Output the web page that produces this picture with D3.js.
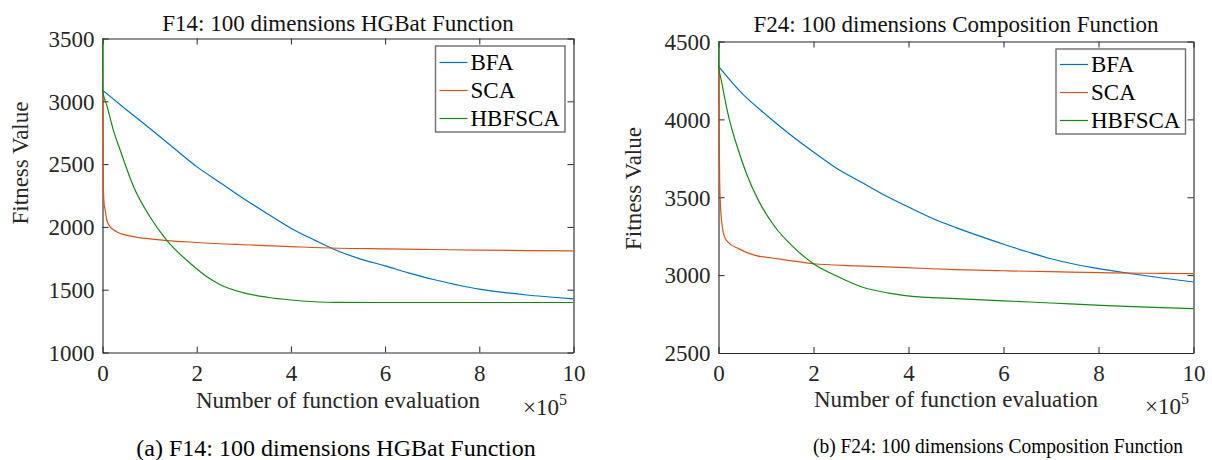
<!DOCTYPE html>
<html>
<head>
<meta charset="utf-8">
<script src="https://cdn.jsdelivr.net/npm/d3@7/dist/d3.min.js"></script>
<style>
  html, body { margin: 0; padding: 0; background: #fff; }
  svg { display: block; }
  svg text { font-family: "Liberation Serif", "Times New Roman", serif !important; }
</style>
</head>
<body>
<svg id="chart" width="1212" height="460"></svg>
<script>
// ---------- data (x in units of 1e5 function evaluations) ----------
const xTicks = [0, 2, 4, 6, 8, 10];
const yTicksF14 = [1000, 1500, 2000, 2500, 3000, 3500];
const yTicksF24 = [2500, 3000, 3500, 4000, 4500];
const seriesNames = ["BFA", "SCA", "HBFSCA"];
const seriesColors = ["#0072BD", "#D95319", "#138a13"];

const titleF14 = "F14: 100 dimensions HGBat Function";
const titleF24 = "F24: 100 dimensions Composition Function";
const captionF14 = "(a) F14: 100 dimensions HGBat Function";
const captionF24 = "(b) F24: 100 dimensions Composition Function";
const xLabel = "Number of function evaluation";
const yLabel = "Fitness Value";

// F14
const f14BfaX = [0, 0.5, 1, 1.5, 2, 2.5, 3, 3.5, 4, 4.5, 5, 5.5, 6, 6.5, 7, 7.5, 8, 8.5, 9, 9.5, 10];
const f14BfaY = [3089, 2935, 2785, 2632, 2480, 2352, 2225, 2105, 1990, 1895, 1808, 1742, 1690, 1634, 1583, 1541, 1504, 1479, 1458, 1442, 1427];
const f14ScaX = [0, 0.01, 0.02, 0.035, 0.057, 0.09, 0.16, 0.3, 0.66, 1, 1.37, 2, 2.57, 3, 4, 5, 6, 7, 8, 9, 10];
const f14ScaY = [3089, 2700, 2300, 2180, 2135, 2055, 2002, 1962, 1923, 1905, 1891, 1876, 1864, 1858, 1843, 1830, 1825, 1820, 1815, 1811, 1809];
const f14HybX = [0, 0.002, 0.1, 0.23, 0.375, 0.66, 1, 1.37, 1.86, 2.29, 2.5, 3, 3.5, 4, 4.5, 5, 6, 7, 8, 9, 10];
const f14HybY = [3500, 3089, 2957, 2771, 2612, 2320, 2085, 1891, 1711, 1585, 1540, 1475, 1440, 1418, 1404, 1399, 1398, 1398, 1398, 1398, 1398];

// F24
const f24BfaX = [0, 0.5, 1, 1.5, 2, 2.5, 3, 3.5, 4, 4.5, 5, 5.5, 6, 6.5, 7, 7.5, 8, 8.5, 9, 9.5, 10];
const f24BfaY = [4340, 4165, 4030, 3905, 3790, 3683, 3598, 3513, 3437, 3365, 3305, 3250, 3198, 3150, 3105, 3070, 3042, 3018, 2996, 2975, 2956];
const f24ScaX = [0, 0.01, 0.025, 0.04, 0.08, 0.13, 0.2, 0.42, 0.77, 1.12, 1.47, 2, 2.88, 3.94, 5, 6, 7, 8.06, 9, 10];
const f24ScaY = [4340, 4000, 3600, 3458, 3309, 3244, 3212, 3170, 3127, 3110, 3095, 3073, 3060, 3048, 3035, 3028, 3022, 3016, 3012, 3009];
const f24HybX = [0, 0.003, 0.06, 0.2, 0.42, 0.59, 0.84, 1.19, 1.54, 2, 2.53, 3.02, 3.58, 4.29, 5, 6, 7, 8.06, 9, 10];
const f24HybY = [4500, 4340, 4250, 4036, 3800, 3651, 3480, 3309, 3191, 3073, 2988, 2924, 2885, 2859, 2849, 2835, 2821, 2806, 2795, 2785];

// ---------- drawing ----------
const svg = d3.select("#chart");
svg.append("rect").attr("width", 1212).attr("height", 460).attr("fill", "#fff");

const FONT = 23;
const AXIS = "#262626";
const SERIF = "'Liberation Serif', 'Times New Roman', serif";

function drawPanel(p) {
  const x = d3.scaleLinear().domain([0, 10]).range([p.left, p.right]);
  const y = d3.scaleLinear().domain(p.yDomain).range([p.bottom, p.top]);
  const g = svg.append("g").style("font-family", SERIF);

  // axes (ticks inward, box on)
  const axB = g.append("g").attr("transform", `translate(0,${p.bottom})`)
    .call(d3.axisBottom(x).tickValues(xTicks).tickSizeInner(-6).tickSizeOuter(0).tickPadding(14).tickFormat(d3.format("d")));
  const axT = g.append("g").attr("transform", `translate(0,${p.top})`)
    .call(d3.axisTop(x).tickValues(xTicks).tickSizeInner(-6).tickSizeOuter(0).tickFormat(""));
  const axL = g.append("g").attr("transform", `translate(${p.left},0)`)
    .call(d3.axisLeft(y).tickValues(p.yTicks).tickSizeInner(-6).tickSizeOuter(0).tickPadding(14).tickFormat(d3.format("d")));
  const axR = g.append("g").attr("transform", `translate(${p.right},0)`)
    .call(d3.axisRight(y).tickValues(p.yTicks).tickSizeInner(-6).tickSizeOuter(0).tickFormat(""));
  [axB, axT, axL, axR].forEach(a => {
    a.attr("font-family", null).attr("font-size", null).style("font-family", SERIF);
    a.select(".domain").attr("stroke", AXIS).attr("stroke-width", 1.1);
    a.selectAll(".tick line").attr("stroke", AXIS).attr("stroke-width", 1);
    a.selectAll("text").style("font-family", SERIF).style("font-size", FONT + "px").attr("fill", AXIS);
  });
  axB.selectAll(".tick text").attr("dy", null).attr("y", 28);
  axL.selectAll(".tick text").attr("dy", "0.34em").attr("x", -8);

  // lines
  const clipId = "clip" + p.id;
  svg.append("clipPath").attr("id", clipId).append("rect")
    .attr("x", p.left - 1).attr("y", p.top - 1).attr("width", p.right - p.left + 2).attr("height", p.bottom - p.top + 2);
  const line = d3.line().x(d => x(d[0])).y(d => y(d[1])).curve(d3.curveMonotoneX);
  p.series.forEach((s, i) => {
    const pts = s.x.map((v, k) => [v, s.y[k]]);
    g.append("path").datum(pts).attr("d", line).attr("fill", "none")
      .attr("stroke", seriesColors[i]).attr("stroke-width", 1.2).attr("clip-path", `url(#${clipId})`);
  });

  const txt = (sel) => sel.style("font-family", SERIF);

  // title
  txt(g.append("text")).attr("x", (p.left + p.right) / 2).attr("y", p.titleY)
    .attr("text-anchor", "middle").style("font-size", FONT + "px").attr("fill", "#111").text(p.title);

  // x label
  txt(g.append("text")).attr("x", (p.left + p.right) / 2).attr("y", p.xLabelY)
    .attr("text-anchor", "middle").style("font-size", FONT + "px").attr("fill", AXIS).text(xLabel);
  // exponent
  const ex = txt(g.append("text")).attr("x", p.expX).attr("y", p.expY).style("font-size", FONT + "px").attr("fill", AXIS);
  ex.append("tspan").text("\u00D710");
  ex.append("tspan").style("font-size", "16px").attr("dy", -10).text("5");

  // y label
  txt(g.append("text")).attr("transform", `translate(${p.yLabelX},${p.yLabelCY}) rotate(-90)`)
    .attr("text-anchor", "middle").style("font-size", FONT + "px").attr("fill", AXIS).text(yLabel);

  // legend
  const L = p.legend;
  g.append("rect").attr("x", L.x0).attr("y", L.y0).attr("width", L.x1 - L.x0).attr("height", L.y1 - L.y0)
    .attr("fill", "#fff").attr("stroke", "#6e6e6e").attr("stroke-width", 1.4);
  seriesNames.forEach((n, i) => {
    const cy = L.rowY0 + i * 28;
    g.append("line").attr("x1", L.x0 + 4).attr("x2", L.x0 + 32).attr("y1", cy).attr("y2", cy)
      .attr("stroke", seriesColors[i]).attr("stroke-width", 1.2);
    txt(g.append("text")).attr("x", L.x0 + 35).attr("y", cy).attr("dy", "0.34em")
      .style("font-size", FONT + "px").attr("fill", "#000").text(n);
  });

  // caption
  const cap = txt(g.append("text")).attr("x", p.capX).attr("y", p.capY).attr("text-anchor", "middle")
    .style("font-size", p.capSize + "px").attr("fill", "#000").text(p.caption);
  if (p.capLen) cap.attr("textLength", p.capLen).attr("lengthAdjust", "spacingAndGlyphs");
}

drawPanel({
  id: "a", left: 102.5, right: 573.5, top: 38.5, bottom: 352.5,
  yDomain: [1000, 3500], yTicks: yTicksF14,
  series: [{ x: f14BfaX, y: f14BfaY }, { x: f14ScaX, y: f14ScaY }, { x: f14HybX, y: f14HybY }],
  title: titleF14, titleY: 30.5,
  xLabelY: 408, expX: 523, expY: 415,
  yLabelX: 27.5, yLabelCY: 163,
  legend: { x0: 435.5, x1: 565, y0: 46, y1: 132, rowY0: 62.5 },
  caption: captionF14, capX: 336, capY: 456, capSize: 24
});

drawPanel({
  id: "b", left: 718.5, right: 1193.5, top: 41.5, bottom: 353,
  yDomain: [2500, 4500], yTicks: yTicksF24,
  series: [{ x: f24BfaX, y: f24BfaY }, { x: f24ScaX, y: f24ScaY }, { x: f24HybX, y: f24HybY }],
  title: titleF24, titleY: 32,
  xLabelY: 407, expX: 1145, expY: 414,
  yLabelX: 641, yLabelCY: 188.5,
  legend: { x0: 1056, x1: 1185.5, y0: 49, y1: 134, rowY0: 64.5 },
  caption: captionF24, capX: 998, capY: 453, capSize: 21, capLen: 370
});
</script>
</body>
</html>
